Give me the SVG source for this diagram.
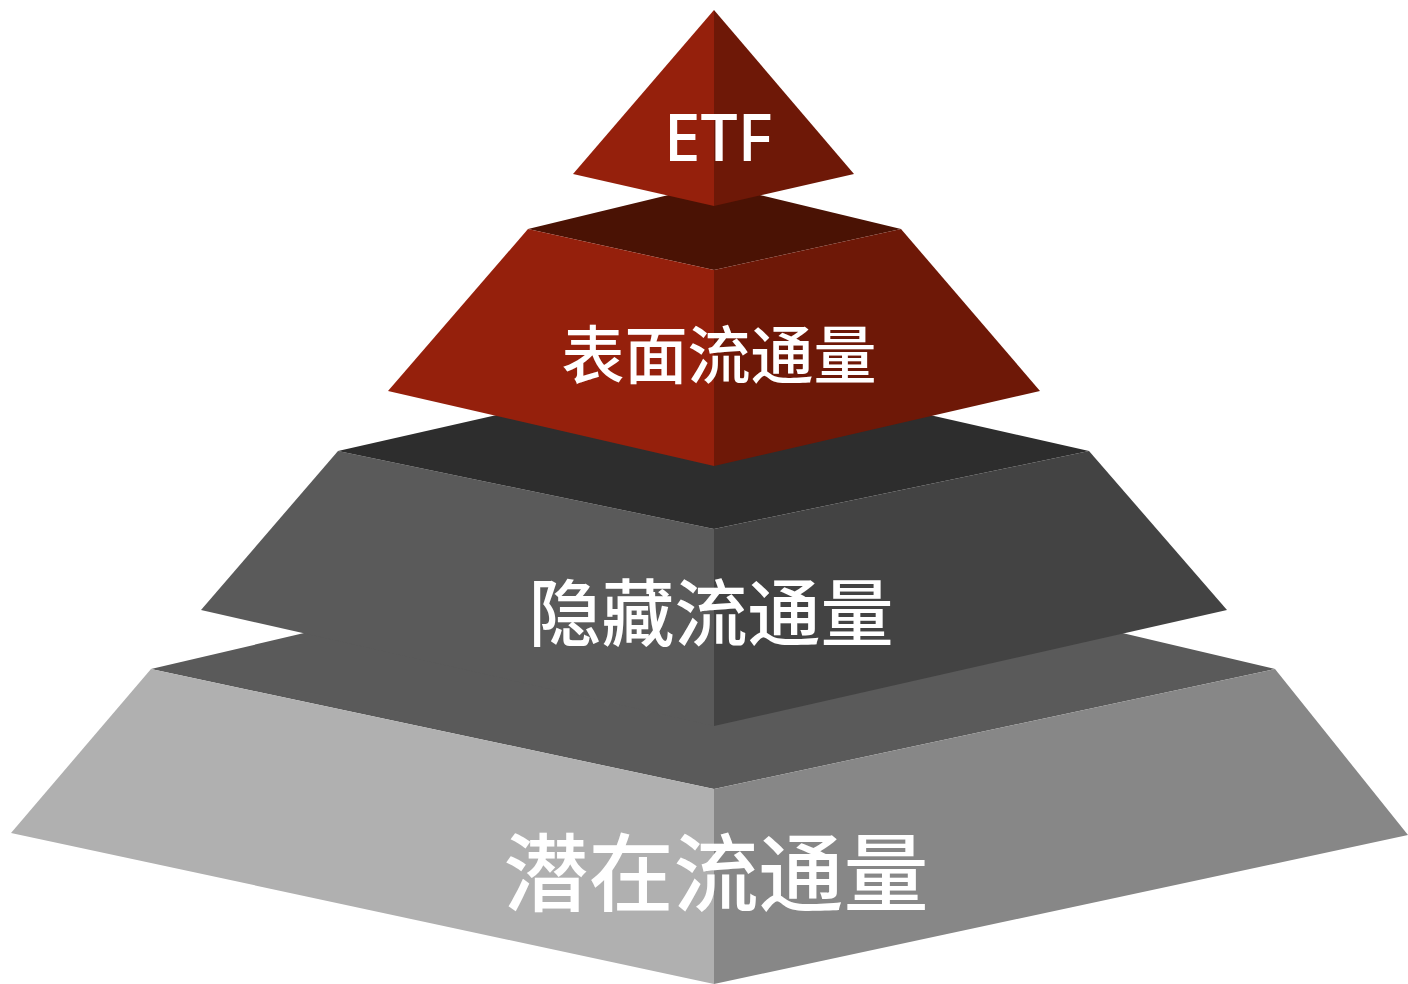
<svg xmlns="http://www.w3.org/2000/svg" width="1408" height="984" viewBox="0 0 1408 984">
  <style>
    .red-l { fill: #95200c; }
    .red-r { fill: #6e1807; }
    .red-t { fill: #4a1204; }
    .dk-l { fill: #5a5a5a; }
    .dk-r { fill: #434343; }
    .dk-t { fill: #2d2d2d; }
    .lt-l { fill: #b0b0b0; }
    .lt-r { fill: #878787; }
    .lt-t { fill: #5a5a5a; }
    .label { fill: #ffffff; text-anchor: middle; font-family: "Noto Sans", "Noto Sans CJK SC", sans-serif; font-weight: 500; }
    .cjk { font-family: "Noto Sans CJK SC", "Noto Sans", sans-serif; }
  </style>
  <rect width="1408" height="984" fill="#ffffff"/>

  <!-- base tier -->
  <g id="tier-latent">
    <polygon class="lt-t" points="151,669 714,537 1275,669 714,789"/>
    <polygon class="lt-l" points="151,669 11,833 714,984 714,789"/>
    <polygon class="lt-r" points="1275,669 1408,835 714,984 714,789"/>
    <text class="label cjk" x="716" y="905" font-size="85">潜在流通量</text>
  </g>

  <!-- hidden tier -->
  <g id="tier-hidden">
    <polygon class="dk-l" points="338,451 201,610 714,726 714,529"/>
    <polygon class="dk-r" points="1089,451 1227,610 714,726 714,529"/>
    <polygon class="dk-t" points="338,451 714,366 1089,451 714,529"/>
    <text class="label cjk" x="711" y="640" font-size="73">隐藏流通量</text>
  </g>

  <!-- surface tier -->
  <g id="tier-surface">
    <polygon class="red-t" points="528,229 714,184 901,229 714,270"/>
    <polygon class="red-l" points="528,229 388,391 714,466 714,270"/>
    <polygon class="red-r" points="901,229 1040,391 714,466 714,270"/>
    <text class="label cjk" x="719" y="378" font-size="63">表面流通量</text>
  </g>

  <!-- apex -->
  <g id="tier-etf">
    <polygon class="red-l" points="714,10 573,174 714,206"/>
    <polygon class="red-r" points="714,10 854,174 714,206"/>
    <text class="label" x="718" y="161" font-size="66">ETF</text>
  </g>

  <g id="connectors"/>
</svg>
